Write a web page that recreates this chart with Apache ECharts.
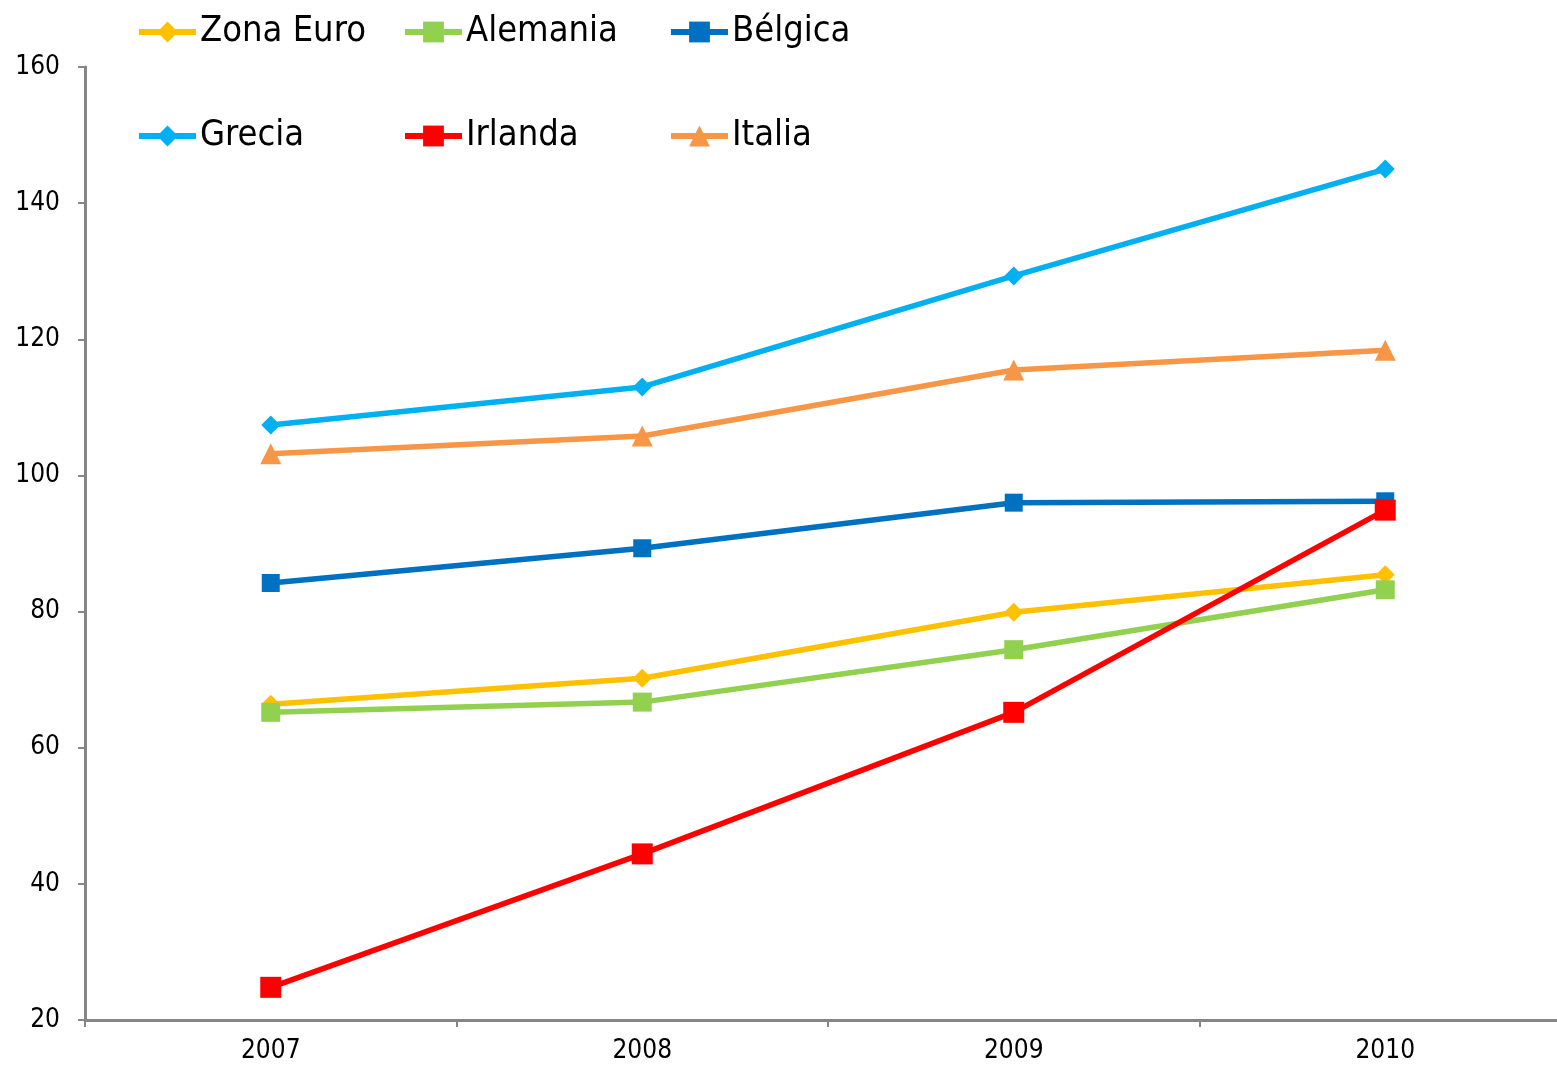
<!DOCTYPE html>
<html>
<head>
<meta charset="utf-8">
<script src="https://cdn.jsdelivr.net/npm/echarts@6/dist/echarts.min.js"></script>
<style>
  html, body { margin: 0; padding: 0; background: #fff; overflow: hidden; }
  /* plot runs past the right edge of the window, like the original */
  #chart { width: 1571px; height: 1065px; }
</style>
</head>
<body>
<div id="chart"></div>
<script>
// categories and values
var years = ['2007', '2008', '2009', '2010']
var zonaEuro = [66.4, 70.2, 79.9, 85.4]
var alemania = [65.2, 66.7, 74.4, 83.2]
var belgica = [84.2, 89.3, 96.0, 96.2]
var grecia = [107.4, 113.0, 129.3, 145.0]
var irlanda = [24.8, 44.4, 65.2, 94.9]
var italia = [103.2, 105.8, 115.5, 118.4]

var font = '"DejaVu Sans Condensed", "DejaVu Sans", sans-serif'

// name, data, colour, marker, marker size
var defs = [
  ['Zona Euro', zonaEuro, '#FFC000', 'diamond', 19],
  ['Alemania', alemania, '#92D050', 'rect', 19],
  ['Bélgica', belgica, '#0070C0', 'rect', 18],
  ['Grecia', grecia, '#00B0F0', 'diamond', 19],
  ['Irlanda', irlanda, '#FF0000', 'rect', 21],
  ['Italia', italia, '#F79646', 'triangle', 21]
]

// legend placement: 3 columns x 2 rows
var legendPos = [
  [131, 9], [397, 9], [663, 9],
  [131, 113], [397, 113], [663, 113]
]

var series = defs.map(function (d) {
  return {
    name: d[0],
    type: 'line',
    data: d[1],
    symbol: d[3],
    symbolSize: d[4],
    lineStyle: { color: d[2], width: 5.5 },
    itemStyle: { color: d[2] },
    z: d[0] === 'Irlanda' ? 5 : 2
  }
})

var legends = defs.map(function (d, i) {
  return {
    data: [d[0]],
    left: legendPos[i][0],
    top: legendPos[i][1],
    itemWidth: 57,
    itemHeight: 26,
    itemGap: 0,
    lineStyle: { width: 6 },
    textStyle: { fontFamily: font, fontSize: 36, color: '#000', padding: [0, 0, 0, -1] }
  }
})

var myChart = echarts.init(document.getElementById('chart'))
myChart.setOption({
  animation: false,
  backgroundColor: '#fff',
  legend: legends,
  grid: { left: 85, right: 0, top: 67, bottom: 45 },
  xAxis: {
    type: 'category',
    data: years,
    boundaryGap: true,
    axisLine: { lineStyle: { color: '#868686', width: 3 } },
    axisTick: { show: true, length: 7, lineStyle: { color: '#868686', width: 2 } },
    axisLabel: { fontFamily: font, fontSize: 26, color: '#000', margin: 18 },
    splitLine: { show: false }
  },
  yAxis: {
    type: 'value',
    min: 20,
    max: 160,
    interval: 20,
    axisLine: { show: true, lineStyle: { color: '#868686', width: 3 } },
    axisTick: { show: true, length: 7, lineStyle: { color: '#868686', width: 2 } },
    axisLabel: { fontFamily: font, fontSize: 26, color: '#000', margin: 25 },
    splitLine: { show: false }
  },
  series: series
})
</script>
</body>
</html>
